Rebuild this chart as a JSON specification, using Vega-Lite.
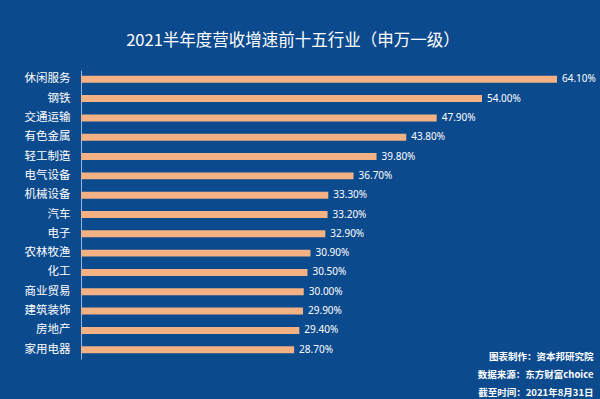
{
  "$schema": "https://vega.github.io/schema/vega-lite/v6.json",
  "autosize": {"type": "none"},
  "width": 476,
  "height": 289,
  "padding": {"left": 81, "top": 70, "right": 43, "bottom": 40},
  "background": "#0C4A8E",
  "title": {
    "text": "2021半年度营收增速前十五行业（申万一级）",
    "font": "Noto Sans CJK SC",
    "fontSize": 16.5,
    "fontWeight": "normal",
    "color": "#FFFFFF",
    "anchor": "middle",
    "dx": -26,
    "offset": 21
  },
  "config": {
    "view": {"stroke": null},
    "font": "Noto Sans CJK SC"
  },
  "data": {
    "values": [
      {"industry": "休闲服务", "growth": 0.641},
      {"industry": "钢铁", "growth": 0.540},
      {"industry": "交通运输", "growth": 0.479},
      {"industry": "有色金属", "growth": 0.438},
      {"industry": "轻工制造", "growth": 0.398},
      {"industry": "电气设备", "growth": 0.367},
      {"industry": "机械设备", "growth": 0.333},
      {"industry": "汽车", "growth": 0.332},
      {"industry": "电子", "growth": 0.329},
      {"industry": "农林牧渔", "growth": 0.309},
      {"industry": "化工", "growth": 0.305},
      {"industry": "商业贸易", "growth": 0.300},
      {"industry": "建筑装饰", "growth": 0.299},
      {"industry": "房地产", "growth": 0.294},
      {"industry": "家用电器", "growth": 0.287}
    ]
  },
  "encoding": {
    "y": {
      "field": "industry",
      "type": "nominal",
      "sort": null,
      "scale": {"paddingInner": 0.64, "paddingOuter": 0.3},
      "axis": {
        "title": null,
        "ticks": false,
        "domain": true,
        "domainColor": "#8DB4E2",
        "domainWidth": 1,
        "labelColor": "#FFFFFF",
        "labelFontSize": 11.5,
        "labelFont": "Noto Sans CJK SC",
        "labelPadding": 11
      }
    },
    "x": {
      "field": "growth",
      "type": "quantitative",
      "scale": {"domain": [0, 0.641], "nice": false, "zero": true},
      "axis": {
        "labels": false,
        "ticks": false,
        "domain": false,
        "grid": false,
        "title": ["图表制作：资本邦研究院", "数据来源：东方财富choice", "截至时间：2021年8月31日"],
        "titleColor": "#FFFFFF",
        "titleFont": "Noto Sans CJK SC",
        "titleFontSize": 9.5,
        "titleFontWeight": "bold",
        "titleLineHeight": 18,
        "titleAnchor": "end",
        "titleAlign": "right",
        "titleBaseline": "top",
        "titleX": 512,
        "titleY": -8
      }
    }
  },
  "layer": [
    {
      "mark": {"type": "bar", "color": "#F4B183", "x": 1.5},
      "encoding": {}
    },
    {
      "mark": {"type": "text", "align": "left", "dx": 5, "color": "#FFFFFF", "fontSize": 10, "font": "Noto Sans"},
      "encoding": {
        "text": {"field": "growth", "type": "quantitative", "format": ".2%"}
      }
    }
  ]
}
